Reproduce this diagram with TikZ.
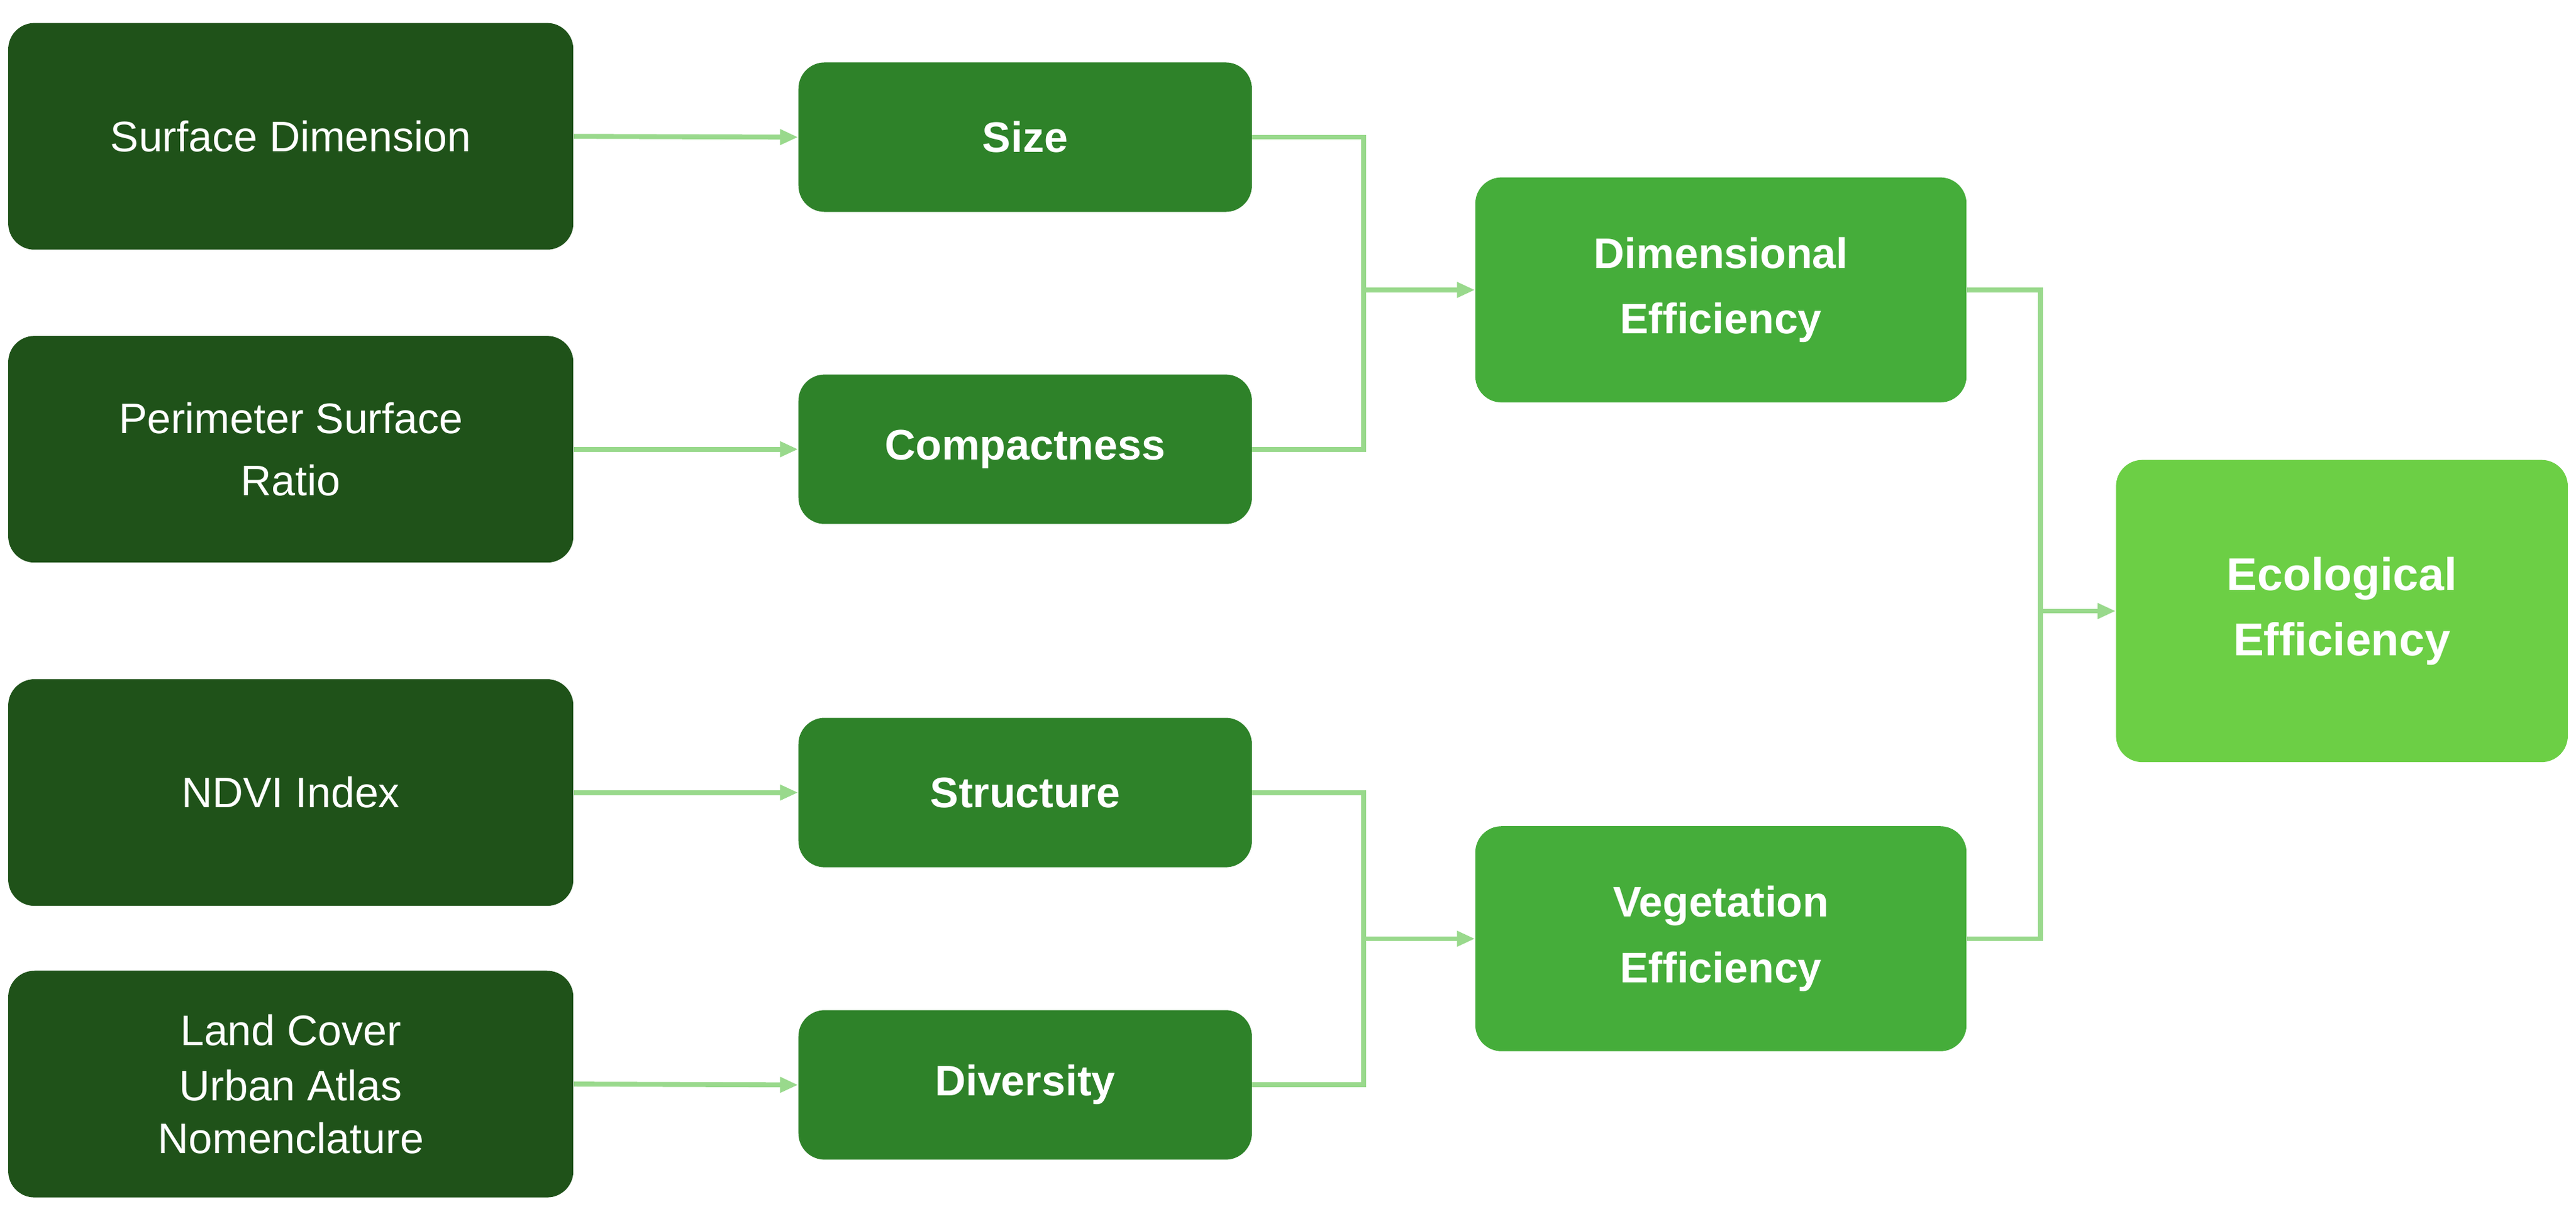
\documentclass[tikz,border=0pt]{standalone}
\usepackage{fontspec}
\setmainfont{Liberation Sans}
\usetikzlibrary{arrows.meta}
\definecolor{c1}{HTML}{1F5219}
\definecolor{c2}{HTML}{2E8229}
\definecolor{c3}{HTML}{45AD3A}
\definecolor{c4}{HTML}{6CCF45}
\definecolor{ln}{HTML}{99D98C}
\begin{document}
\begin{tikzpicture}[x=1pt,y=-1pt,
 box/.style={draw=none,rounded corners=16pt,text=white,align=center,inner sep=0pt},
 b1/.style={box,fill=c1,minimum width=344pt,minimum height=138pt,font=\fontsize{26}{38}\selectfont},
 b2/.style={box,fill=c2,minimum width=276pt,minimum height=91pt,font=\fontsize{26}{38}\selectfont\bfseries},
 b3/.style={box,fill=c3,minimum width=299pt,minimum height=137pt,font=\fontsize{26}{40}\selectfont\bfseries},
 b4/.style={box,fill=c4,minimum width=275pt,minimum height=184pt,font=\fontsize{28}{40}\selectfont\bfseries},
 con/.style={draw=ln,line width=3pt,-{Triangle[length=11pt,width=9pt]}}]
\useasboundingbox (0,0) rectangle (1568,739);
\node[b1] (a1) at (177,83) {Surface Dimension};
\node[b1] (a2) at (177,273.5) {Perimeter Surface\\Ratio};
\node[b1] (a3) at (177,482.5) {NDVI Index};
\node[b1] (a4) at (177,660) {Land Cover\\[-4pt]Urban Atlas\\[-6pt]Nomenclature};
\node[b2] (s1) at (624,83.5) {Size};
\node[b2] (s2) at (624,273.5) {Compactness};
\node[b2] (s3) at (624,482.5) {Structure};
\node[b2] (s4) at (624,660.5) {Diversity};
\node[b3] (d1) at (1047.5,176.5) {Dimensional\\Efficiency};
\node[b3] (d2) at (1047.5,571.5) {Vegetation\\Efficiency};
\node[b4] (e) at (1425.5,372) {Ecological\\Efficiency};
\draw[con] (a1.east) -- (s1.west);
\draw[con] (a2.east) -- (s2.west);
\draw[con] (a3.east) -- (s3.west);
\draw[con] (a4.east) -- (s4.west);
\coordinate (j1) at (830,176.5);
\coordinate (j2) at (830,571.5);
\coordinate (j3) at (1242,372);
\draw[draw=ln,line width=3pt] (s1.east) -| (j1) |- (s2.east);
\draw[con] (j1) -- (d1.west);
\draw[draw=ln,line width=3pt] (s3.east) -| (j2) |- (s4.east);
\draw[con] (j2) -- (d2.west);
\draw[draw=ln,line width=3pt] (d1.east) -| (j3) |- (d2.east);
\draw[con] (j3) -- (e.west);
\end{tikzpicture}
\end{document}
